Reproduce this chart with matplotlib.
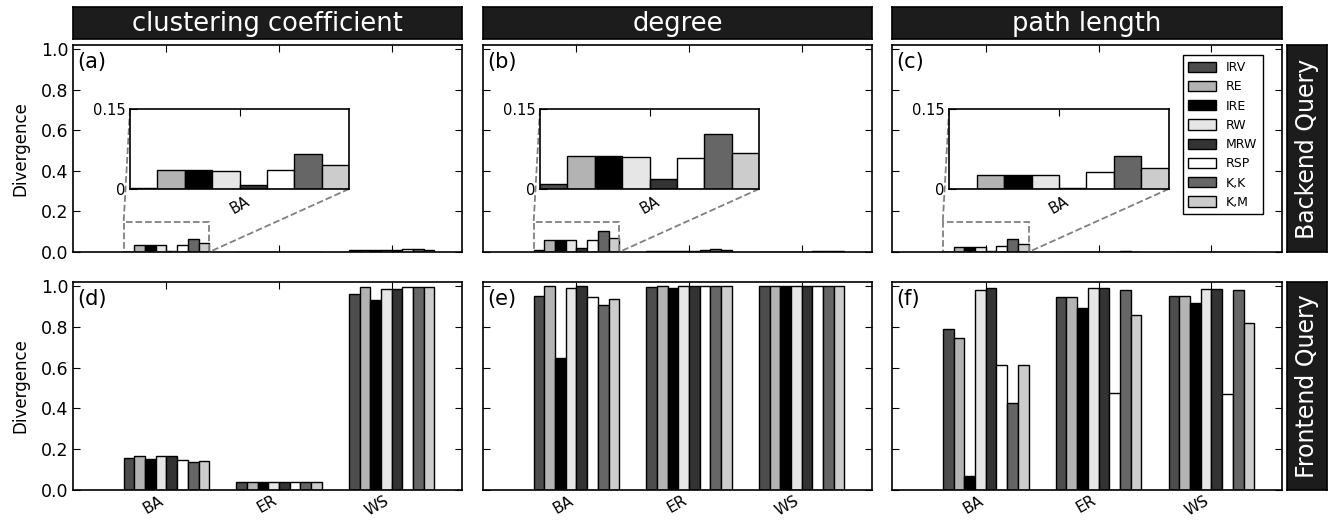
import matplotlib
matplotlib.use("Agg")
import matplotlib.pyplot as plt
import numpy as np
from mpl_toolkits.axes_grid1.inset_locator import mark_inset

# data: one row per sampling method, columns are BA, ER, WS
graphs = ["BA", "ER", "WS"]
methods = ["IRV", "RE", "IRE", "RW", "MRW", "RSP", "K,K", "K,M"]
method_colors = ["0.3", "0.7", "0.0", "0.9", "0.2", "1.0", "0.4", "0.8"]
metrics = ["clustering coefficient", "degree", "path length"]
query_types = ["Backend Query", "Frontend Query"]
panel_letters = ["(a)", "(b)", "(c)", "(d)", "(e)", "(f)"]

backend_clustering = [
    [0.002, 0.002, 0.010],
    [0.035, 0.002, 0.010],
    [0.035, 0.002, 0.010],
    [0.034, 0.002, 0.010],
    [0.007, 0.001, 0.010],
    [0.036, 0.002, 0.014],
    [0.066, 0.002, 0.014],
    [0.044, 0.002, 0.012],
]
backend_degree = [
    [0.009, 0.003, 0.002],
    [0.061, 0.007, 0.002],
    [0.061, 0.007, 0.002],
    [0.060, 0.007, 0.002],
    [0.019, 0.004, 0.002],
    [0.058, 0.010, 0.004],
    [0.104, 0.016, 0.006],
    [0.068, 0.010, 0.005],
]
backend_path = [
    [0.000, 0.000, 0.000],
    [0.026, 0.001, 0.001],
    [0.026, 0.001, 0.001],
    [0.026, 0.001, 0.001],
    [0.0025, 0.000, 0.000],
    [0.031, 0.001, 0.001],
    [0.062, 0.003, 0.002],
    [0.039, 0.002, 0.001],
]
frontend_clustering = [
    [0.157, 0.038, 0.959],
    [0.167, 0.038, 0.997],
    [0.152, 0.038, 0.930],
    [0.167, 0.038, 0.987],
    [0.167, 0.038, 0.987],
    [0.148, 0.038, 0.997],
    [0.136, 0.038, 0.995],
    [0.143, 0.038, 0.995],
]
frontend_degree = [
    [0.951, 0.995, 1.000],
    [1.000, 1.000, 1.000],
    [0.648, 0.990, 1.000],
    [0.989, 1.000, 1.000],
    [1.000, 1.000, 1.000],
    [0.948, 1.000, 1.000],
    [0.907, 1.000, 1.000],
    [0.938, 1.000, 1.000],
]
frontend_path = [
    [0.789, 0.948, 0.952],
    [0.746, 0.948, 0.952],
    [0.070, 0.893, 0.918],
    [0.982, 0.989, 0.987],
    [0.992, 0.989, 0.987],
    [0.611, 0.475, 0.470],
    [0.426, 0.982, 0.982],
    [0.611, 0.857, 0.821],
]

panel_data = [backend_clustering, backend_degree, backend_path,
              frontend_clustering, frontend_degree, frontend_path]

plt.rcParams.update({
    "font.family": "DejaVu Sans",
    "xtick.direction": "in",
    "ytick.direction": "in",
    "xtick.top": True,
    "ytick.right": True,
    "xtick.major.size": 5,
    "ytick.major.size": 5,
    "axes.linewidth": 1.2,
})

W, H = 1332, 521
fig = plt.figure(figsize=(W / 100, H / 100), dpi=100)


def px_axes(x0, y0, x1, y1):
    # pixel box (top-left origin) -> figure axes
    return fig.add_axes([x0 / W, 1 - y1 / H, (x1 - x0) / W, (y1 - y0) / H])


col_x = [(73, 462), (483, 872), (892, 1282)]
row_y = [(45, 252), (282, 490)]
bar_w = 0.095
pos = np.arange(1, len(graphs) + 1)

for idx, data in enumerate(panel_data):
    r, c = divmod(idx, 3)
    x0, x1 = col_x[c]
    y0, y1 = row_y[r]
    ax = px_axes(x0, y0, x1, y1)
    vals = np.array(data)
    for m in range(len(methods)):
        ax.bar(pos + (m - 3.5) * bar_w, vals[m], bar_w, color=method_colors[m],
               edgecolor="black", linewidth=1.0, label=methods[m])
    ax.set_xlim(0.17, 3.625)
    ax.set_ylim(0, 1.02)
    ax.set_yticks(np.arange(0, 1.01, 0.2))
    ax.set_xticks(pos)
    if r == 1:
        ax.set_xticklabels(graphs, rotation=30, ha="right", fontsize=11)
        ax.tick_params(axis="x", pad=2)
    else:
        ax.set_xticklabels([])
    if c == 0:
        ax.set_yticklabels(["%.1f" % v for v in np.arange(0, 1.01, 0.2)], fontsize=12.5)
        ax.set_ylabel("Divergence", fontsize=12, labelpad=8)
    else:
        ax.set_yticklabels([])
    ax.text(0.012, 0.965, panel_letters[idx], transform=ax.transAxes,
            ha="left", va="top", fontsize=15)

    if r == 0:
        # zoomed inset on the BA group
        iw = x1 - x0
        ih = y1 - y0
        axins = px_axes(x0 + 0.1465 * iw, y0 + 0.31 * ih, x0 + 0.71 * iw, y0 + 0.695 * ih)
        for m in range(len(methods)):
            axins.bar(pos[0] + (m - 3.5) * bar_w, vals[m, 0], bar_w,
                      color=method_colors[m], edgecolor="black", linewidth=1.0)
        axins.set_xlim(pos[0] - 4 * bar_w, pos[0] + 4 * bar_w)
        axins.set_ylim(0, 0.15)
        axins.set_yticks([0, 0.15])
        axins.set_yticklabels(["0", "0.15"], fontsize=10.5)
        axins.set_xticks([pos[0]])
        axins.set_xticklabels(["BA"], rotation=30, fontsize=10.5)
        axins.tick_params(right=False, length=5)
        mark_inset(ax, axins, loc1=2, loc2=4, fc="none", ec="0.5",
                   linestyle="--", linewidth=1.3)

    if idx == 2:
        ax.legend(loc="upper right", bbox_to_anchor=(0.967, 0.98), fontsize=9,
                  fancybox=False, edgecolor="black", framealpha=1,
                  handlelength=2.2, handleheight=0.9, labelspacing=0.5,
                  borderpad=0.45, handletextpad=0.8)

# column strips on top
for c, name in enumerate(metrics):
    x0, x1 = col_x[c]
    sax = px_axes(x0, 7, x1, 39)
    sax.set_facecolor("#1c1c1c")
    sax.set_xticks([])
    sax.set_yticks([])
    sax.text(0.5, 0.47, name, color="white", fontsize=18.5, ha="center",
             va="center", transform=sax.transAxes)

# row strips on the right
for r, name in enumerate(query_types):
    y0, y1 = row_y[r]
    sax = px_axes(1287, y0, 1327, y1)
    sax.set_facecolor("#1c1c1c")
    sax.set_xticks([])
    sax.set_yticks([])
    sax.text(0.5, 0.5, name, color="white", fontsize=17, rotation=90,
             ha="center", va="center", transform=sax.transAxes)

fig.savefig("out.png", dpi=100)
